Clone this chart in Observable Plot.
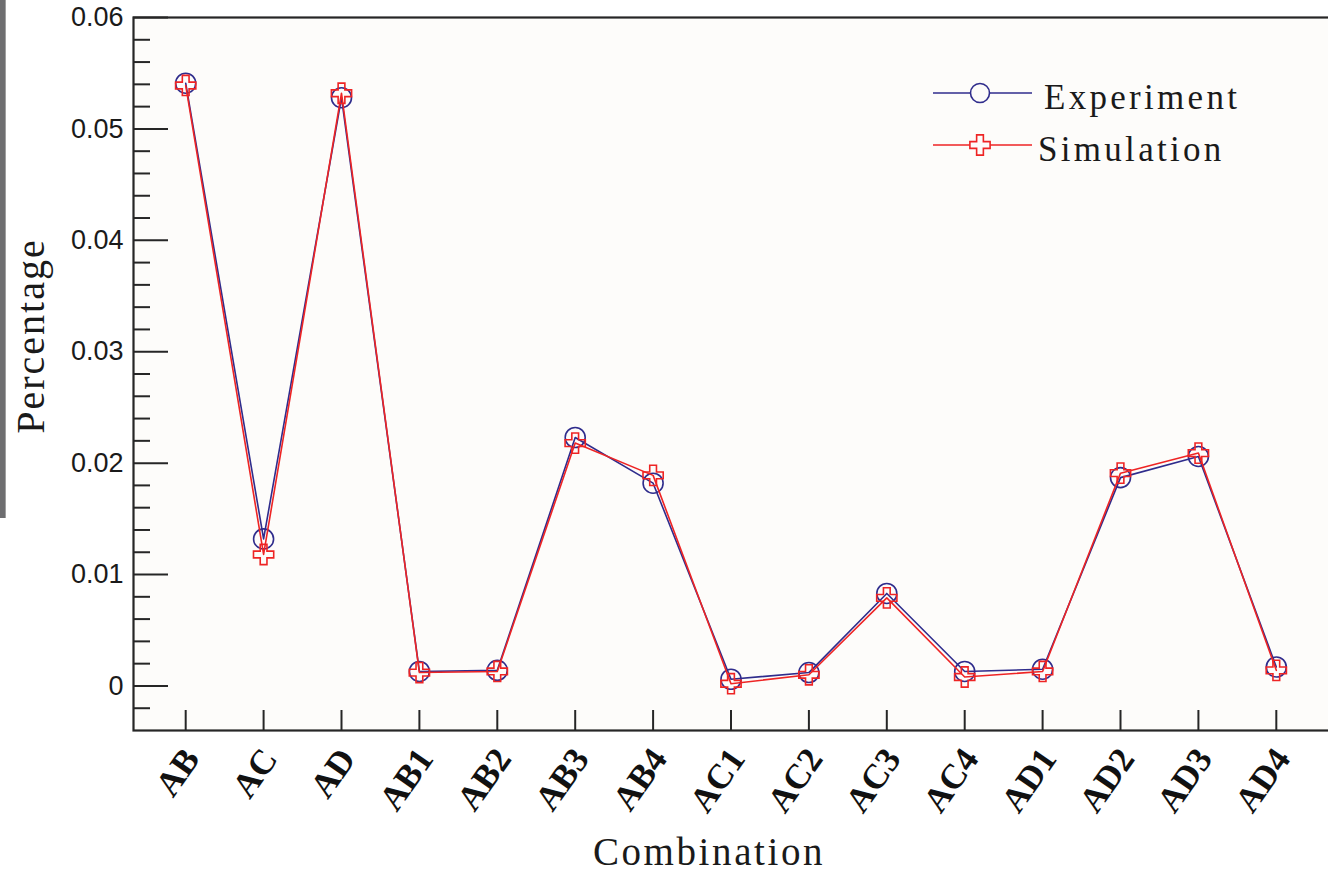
<!DOCTYPE html>
<html>
<head>
<meta charset="utf-8">
<script src="https://cdn.jsdelivr.net/npm/d3@7"></script>
<script src="https://cdn.jsdelivr.net/npm/@observablehq/plot@0.6"></script>
<style>
  html, body { margin: 0; padding: 0; background: #ffffff; }
  #wrap { position: relative; width: 1328px; height: 874px; overflow: hidden; }
  #strip { position: absolute; left: 0; top: 0; width: 5px; height: 518px; background: #6e6e70; border-right: 1px solid #a0a0a0; z-index: 2; }
</style>
</head>
<body>
<div id="wrap"><div id="strip"></div></div>
<script>
const categories = ["AB","AC","AD","AB1","AB2","AB3","AB4","AC1","AC2","AC3","AC4","AD1","AD2","AD3","AD4"];
const experiment = [0.0541,0.0132,0.0528,0.0013,0.0014,0.0223,0.0182,0.0006,0.0012,0.0083,0.0013,0.0015,0.0187,0.0206,0.0017];
const simulation = [0.0539,0.0118,0.0532,0.0012,0.0013,0.0218,0.0189,0.0002,0.0010,0.0079,0.0008,0.0013,0.0191,0.0209,0.0014];
const yMajor = [0, 0.01, 0.02, 0.03, 0.04, 0.05, 0.06];
const yMinor = [-0.002, 0.002, 0.004, 0.006, 0.008, 0.012, 0.014, 0.016, 0.018, 0.022, 0.024, 0.026, 0.028,
                0.032, 0.034, 0.036, 0.038, 0.042, 0.044, 0.046, 0.048, 0.052, 0.054, 0.056, 0.058];
const seriesNames = ["Experiment", "Simulation"];

const W = 1328, H = 874, ML = 133, MR = 0, MT = 17, MB = 144;
const FW = W - ML - MR, FH = H - MT - MB;
const BLUE = "#2f2c8c", RED = "#ee2424", AX = "#262626";
const SERIF = "'Liberation Serif', 'Times New Roman', serif";

const expData = categories.map((c, i) => ({c, v: experiment[i]}));
const simData = categories.map((c, i) => ({c, v: simulation[i]}));

const chart = Plot.plot({
  width: W, height: H,
  marginLeft: ML, marginRight: MR, marginTop: MT, marginBottom: MB,
  style: {background: "#ffffff", fontFamily: "'Liberation Sans', Arial, sans-serif", color: "#222"},
  x: {type: "point", domain: categories, padding: 0.67, round: false, axis: null},
  y: {domain: [-0.004, 0.06], axis: null},
  marks: [
    Plot.frame({fill: "#fdfcfa", stroke: null}),
    Plot.tickY(yMinor, {y: d => d, stroke: AX, strokeWidth: 2, insetRight: FW - 17}),
    Plot.tickY(yMajor, {y: d => d, stroke: AX, strokeWidth: 2, insetRight: FW - 35}),
    Plot.tickX(categories, {x: d => d, stroke: AX, strokeWidth: 2, insetTop: FH - 20}),
    Plot.frame({stroke: AX, strokeWidth: 2.2, insetRight: -4}),
    Plot.axisY(yMajor, {tickSize: 0, tickPadding: 10, fontSize: 27, fill: "#1a1a1a", label: null,
      tickFormat: d => d === 0 ? "0" : d.toFixed(2)}),
    Plot.text(categories, {x: d => d, text: d => d, frameAnchor: "bottom", dy: 22, dx: 6, rotate: -55,
      textAnchor: "end", lineAnchor: "middle", fontSize: 35, fontWeight: "bold",
      fontFamily: SERIF, fill: "#111"}),
    Plot.line(expData, {x: "c", y: "v", stroke: BLUE, strokeWidth: 1.6}),
    Plot.dot(expData, {x: "c", y: "v", r: 10, stroke: BLUE, strokeWidth: 1.6, fill: "none"}),
    Plot.line(simData, {x: "c", y: "v", stroke: RED, strokeWidth: 1.6}),
    Plot.dot(simData, {x: "c", y: "v", r: 8.5, symbol: "cross", stroke: RED, strokeWidth: 1.6, fill: "none"}),
    Plot.text(["Percentage"], {frameAnchor: "left", dx: -102, dy: -38, rotate: -90, fontSize: 40,
      textAnchor: "middle", lineAnchor: "middle", fontFamily: SERIF, fill: "#1a1a1a"}),
    Plot.text(["Combination"], {frameAnchor: "bottom", dx: -22, dy: 122, fontSize: 39,
      textAnchor: "middle", lineAnchor: "middle", fontFamily: SERIF, fill: "#1a1a1a"})
  ]
});

const svg = d3.select(chart);
svg.selectAll("text").each(function() {
  const t = d3.select(this).text();
  if (t === "Combination") d3.select(this).attr("letter-spacing", "2.6px");
  if (t === "Percentage") d3.select(this).attr("letter-spacing", "2px");
});

// Legend
const leg = svg.append("g").attr("font-family", SERIF).attr("text-anchor", "start");
const legRows = [
  {name: seriesNames[0], color: BLUE, y: 93, tx: 1044, sym: "circle"},
  {name: seriesNames[1], color: RED, y: 145, tx: 1038, sym: "cross"}
];
legRows.forEach(r => {
  leg.append("line").attr("x1", 933).attr("x2", 1032).attr("y1", r.y).attr("y2", r.y)
    .attr("stroke", r.color).attr("stroke-width", 1.6);
  if (r.sym === "circle") {
    leg.append("circle").attr("cx", 980).attr("cy", r.y).attr("r", 9.5)
      .attr("fill", "#fdfcfa").attr("stroke", r.color).attr("stroke-width", 1.6);
  } else {
    leg.append("path").attr("d", d3.symbol(d3.symbolCross, Math.PI * 8.5 * 8.5)())
      .attr("transform", `translate(980,${r.y})`)
      .attr("fill", "#fdfcfa").attr("stroke", r.color).attr("stroke-width", 1.6);
  }
  leg.append("text").attr("x", r.tx).attr("y", r.y + 4).attr("dy", "0.35em")
    .attr("font-size", 35).attr("letter-spacing", "3.3px").attr("fill", "#1a1a1a").text(r.name);
});

document.getElementById("wrap").appendChild(chart);
d3.select(chart).style("position", "absolute").style("left", "0px").style("top", "0px");
</script>
</body>
</html>
